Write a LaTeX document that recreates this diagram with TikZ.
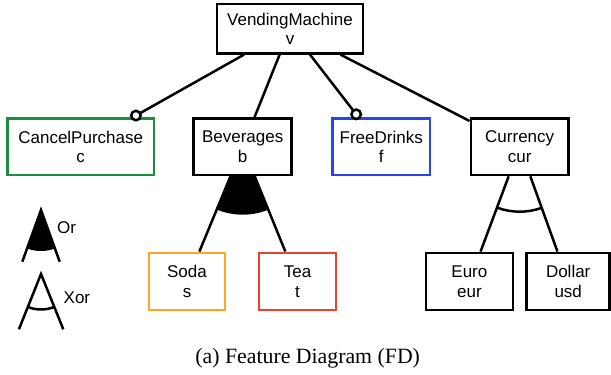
\documentclass[tikz,border=0pt]{standalone}
\usepackage{fontspec}
\setmainfont{Liberation Serif}
\newfontfamily\featfont{Liberation Sans}
\usetikzlibrary{calc,backgrounds}
\definecolor{fgreen}{RGB}{30,140,62}
\definecolor{fblue}{RGB}{40,70,230}
\definecolor{forange}{RGB}{255,165,40}
\definecolor{fred}{RGB}{240,65,45}
\begin{document}
\begin{tikzpicture}[x=1pt,y=1pt,
  feat/.style={draw, line width=2.5pt, fill=white, align=center,
    font=\featfont\fontsize{17}{19.5}\selectfont, inner sep=0pt},
  top/.style={feat, minimum height=56.7pt},
  low/.style={feat, minimum height=57.3pt},
  edge/.style={line width=2.5pt},
  optcirc/.style={circle, draw, fill=white, line width=2.5pt, minimum size=9.5pt, inner sep=0pt},
  lbl/.style={font=\featfont\fontsize{17}{19.5}\selectfont, anchor=west, inner sep=0pt}]
\useasboundingbox (0,0) rectangle (611,375);
% features
\node[feat, minimum width=146pt, minimum height=49.3pt] (vm) at (290,346.3) {VendingMachine\\v};
\node[top, draw=fgreen, minimum width=146.7pt] (cp) at (80.7,228.3) {CancelPurchase\\c};
\node[top, minimum width=98pt] (bev) at (242.7,228.3) {Beverages\\b};
\node[top, draw=fblue, minimum width=97.7pt] (fd) at (381.2,228.3) {FreeDrinks\\f};
\node[top, minimum width=97.7pt] (cur) at (519.7,228.3) {Currency\\cur};
\node[low, draw=forange, minimum width=76pt] (soda) at (187,93.5) {Soda\\s};
\node[low, draw=fred, minimum width=77pt] (tea) at (297.5,93.5) {Tea\\t};
\node[low, minimum width=86.7pt] (euro) at (469.4,93.5) {Euro\\eur};
\node[low, minimum width=83pt] (dollar) at (568.2,93.5) {Dollar\\usd};
\draw[edge] (vm) -- (cp) node[optcirc, pos=0.975] (cpc) {};
\draw[edge] (vm) -- (fd) node[optcirc, pos=0.955] (fdc) {};
\begin{scope}[on background layer]
  \draw[edge] (vm) -- (bev);
  \draw[edge] (vm) -- (cur);
  % Or group
  \fill let \p1=($(soda)-(bev)$), \p2=($(tea)-(bev)$),
            \n1={atan2(\y1,\x1)}, \n2={atan2(\y2,\x2)} in
    (bev.center) -- ++(\n1:68pt) arc[start angle=\n1, end angle=\n2, radius=68pt] -- cycle;
  \draw[edge] (bev) -- (soda);
  \draw[edge] (bev) -- (tea);
  % Xor group
  \draw[edge] let \p1=($(euro)-(cur)$), \p2=($(dollar)-(cur)$),
            \n1={atan2(\y1,\x1)}, \n2={atan2(\y2,\x2)} in
    ($(cur.center)+(\n1:65pt)$) arc[start angle=\n1, end angle=\n2, radius=65pt];
  \draw[edge] (cur) -- (euro);
  \draw[edge] (cur) -- (dollar);
\end{scope}
% legend
\coordinate (orA) at (41,165);
\coordinate (orL) at (22.3,113.3);
\coordinate (orR) at (59.7,113.3);
\fill let \p1=($(orL)-(orA)$), \p2=($(orR)-(orA)$),
          \n1={atan2(\y1,\x1)}, \n2={atan2(\y2,\x2)} in
  (orA) -- ++(\n1:41pt) arc[start angle=\n1, end angle=\n2, radius=41pt] -- cycle;
\draw[edge] (orL) -- (orA) -- (orR);
\node[lbl] (orlbl) at (57,147) {Or};
\coordinate (xoA) at (41,101);
\coordinate (xoL) at (18.9,45.7);
\coordinate (xoR) at (63.3,45.7);
\draw[edge] (xoL) -- (xoA) -- (xoR);
\draw[edge] let \p1=($(xoL)-(xoA)$), \p2=($(xoR)-(xoA)$),
          \n1={atan2(\y1,\x1)}, \n2={atan2(\y2,\x2)} in
  ($(xoA)+(\n1:35.5pt)$) arc[start angle=\n1, end angle=\n2, radius=35.5pt];
\node[lbl] (xorlbl) at (63.5,77.7) {Xor};
% caption
\node[anchor=base, inner sep=0pt, font=\fontsize{21.8}{25}\selectfont] (cap) at (307.7,11.7) {(a) Feature Diagram (FD)};
\end{tikzpicture}
\end{document}
